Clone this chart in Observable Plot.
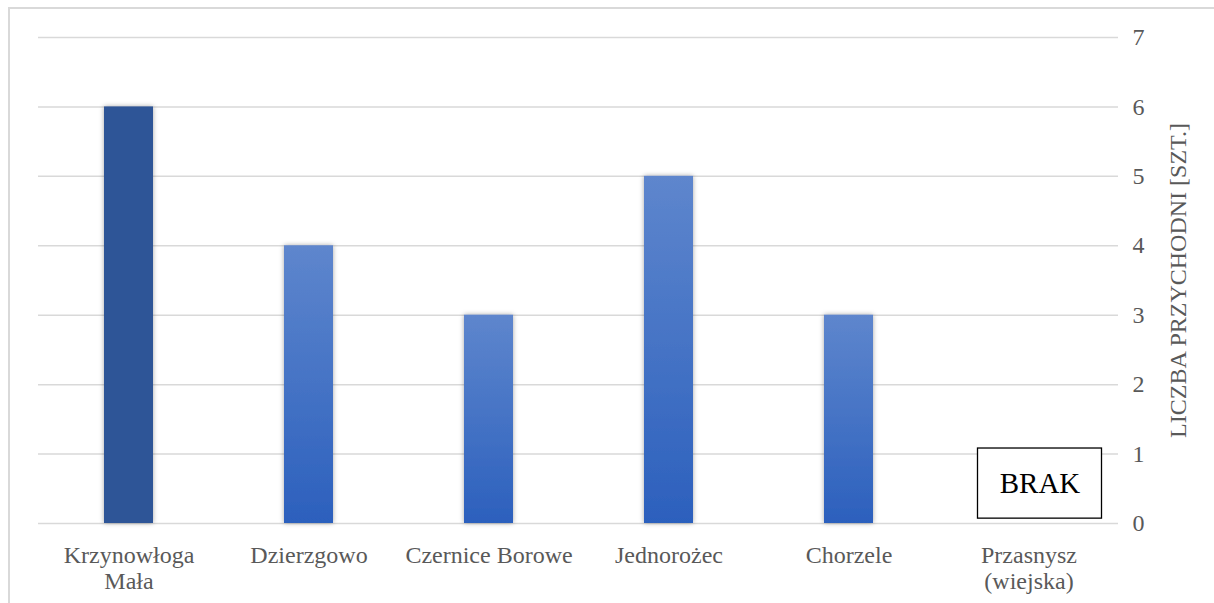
<!DOCTYPE html>
<html>
<head>
<meta charset="utf-8">
<script src="https://cdn.jsdelivr.net/npm/d3@7"></script>
<script src="https://cdn.jsdelivr.net/npm/@observablehq/plot@0.6"></script>
<style>
  html, body { margin: 0; padding: 0; background: #fff; }
  #wrap { position: relative; width: 1214px; height: 603px; overflow: hidden; }
  #frame { position: absolute; left: 8px; top: 7px; width: 1240px; height: 640px;
           border-top: 2px solid #d9d9d9; border-left: 2px solid #d9d9d9; box-sizing: border-box; pointer-events: none; }
  #chart { position: absolute; left: 0; top: 0; }
</style>
</head>
<body>
<div id="wrap"><div id="chart"></div><div id="frame"></div></div>
<script>
const categories = ["Krzynowłoga Mała", "Dzierzgowo", "Czernice Borowe", "Jednorożec", "Chorzele", "Przasnysz (wiejska)"];
const tickLabels = ["Krzynowłoga\nMała", "Dzierzgowo", "Czernice Borowe", "Jednorożec", "Chorzele", "Przasnysz\n(wiejska)"];
const values = [6, 4, 3, 5, 3, null];
const highlighted = ["Krzynowłoga Mała"];
const yTicks = [0, 1, 2, 3, 4, 5, 6, 7];
const yLabel = "LICZBA PRZYCHODNI [SZT.]";
const noteText = ["BRAK"];
const noteCategory = ["Przasnysz (wiejska)"];
const noteRange = [[0.07, 1.08]];

const data = categories.map((c, i) => ({category: c, value: values[i]})).filter(d => d.value != null);
const notes = noteText.map((t, i) => ({category: noteCategory[i], text: t, y1: noteRange[i][0], y2: noteRange[i][1]}));
const labelOf = new Map(categories.map((c, i) => [c, tickLabels[i]]));

const font = "Liberation Serif";

const defs = () => {
  const ns = "http://www.w3.org/2000/svg";
  const d = document.createElementNS(ns, "defs");
  d.innerHTML = `
    <linearGradient id="barGrad" x1="0" y1="0" x2="0" y2="1">
      <stop offset="0" stop-color="#5E86CD"/>
      <stop offset="1" stop-color="#2C60BD"/>
    </linearGradient>
    <filter id="shadow" x="-30%" y="-10%" width="160%" height="120%">
      <feDropShadow dx="0" dy="0" stdDeviation="2.5" flood-color="#000" flood-opacity="0.35"/>
    </filter>`;
  return d;
};

const chart = Plot.plot({
  width: 1214,
  height: 603,
  marginLeft: 38,
  marginRight: 96,
  marginTop: 37,
  marginBottom: 80,
  style: {fontFamily: font, fontSize: "24px", color: "#595959", background: "transparent", overflow: "visible"},
  x: {domain: categories, paddingInner: 0.728, paddingOuter: 0.364, label: null},
  y: {domain: [0, 7], label: null},
  marks: [
    defs,
    Plot.gridY(yTicks, {stroke: "#d9d9d9", strokeOpacity: 1, strokeWidth: 1.5}),
    Plot.barY(data, {filter: d => !highlighted.includes(d.category), x: "category", y: "value", fill: "url(#barGrad)"}),
    Plot.barY(data, {filter: d => highlighted.includes(d.category), x: "category", y: "value", fill: "#2E5597"}),
    Plot.barY(notes, {x: "category", y1: "y1", y2: "y2", fill: "white", stroke: "black", strokeWidth: 1.3, insetLeft: -26.5, insetRight: -48.5}),
    Plot.text(notes, {x: "category", y: d => (d.y1 + d.y2) / 2, text: "text", dx: 11, fill: "black", fontSize: 29, fontFamily: font}),
    Plot.axisX({tickSize: 0, tickPadding: 21, tickFormat: d => labelOf.get(d), lineHeight: 1.08, fill: "#595959", fontSize: 24, fontFamily: font, label: null}),
    Plot.axisY(yTicks, {anchor: "right", tickSize: 0, tickPadding: 14, textAnchor: "start", tickFormat: d => String(d), fill: "#595959", fontSize: 24, fontFamily: font, label: null}),
    Plot.axisY(yTicks, {anchor: "right", tickSize: 0, ticks: [], text: null, label: yLabel, labelAnchor: "center", labelArrow: "none", labelOffset: 67, fill: "#595959", fontSize: 24, fontFamily: font})
  ]
});

chart.querySelectorAll('g[aria-label="bar"]').forEach((g, i) => { if (i < 2) g.setAttribute("filter", "url(#shadow)"); });
document.getElementById("chart").appendChild(chart);
</script>
</body>
</html>
